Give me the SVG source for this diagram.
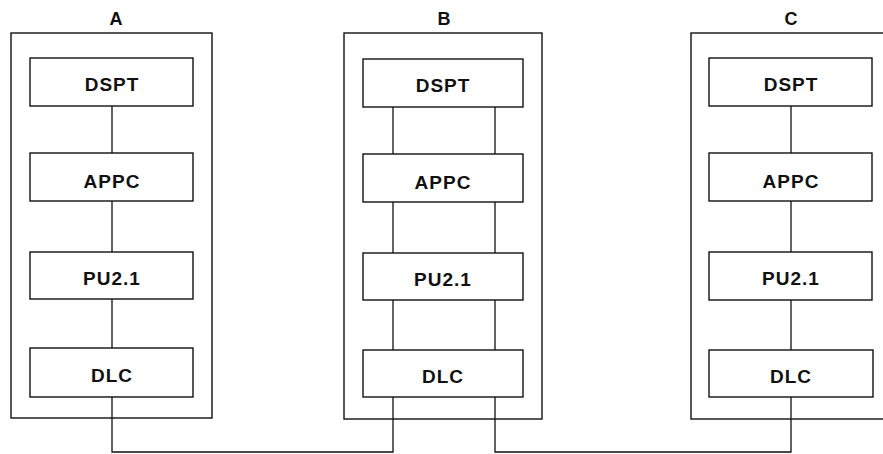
<svg xmlns="http://www.w3.org/2000/svg" width="883" height="454" viewBox="0 0 883 454">
<style>
.frame{fill:none;stroke:#111;stroke-width:1.4}
.box{fill:#fff;stroke:#111;stroke-width:1.4}
.ln{fill:none;stroke:#111;stroke-width:1.3}
.lbl{font-family:"Liberation Sans",Arial,sans-serif;font-weight:bold;font-size:19px;letter-spacing:1px;fill:#111;text-anchor:middle}
.ttl{font-family:"Liberation Sans",Arial,sans-serif;font-weight:bold;font-size:18px;fill:#111;text-anchor:middle}
</style>
<rect width="883" height="454" fill="#fff"/>
<g id="connectors">
<line class="ln" x1="112" y1="106" x2="112" y2="153"/>
<line class="ln" x1="112" y1="201" x2="112" y2="252"/>
<line class="ln" x1="112" y1="299" x2="112" y2="348"/>
<line class="ln" x1="393" y1="107" x2="393" y2="154"/>
<line class="ln" x1="495" y1="107" x2="495" y2="154"/>
<line class="ln" x1="393" y1="202" x2="393" y2="253"/>
<line class="ln" x1="495" y1="202" x2="495" y2="253"/>
<line class="ln" x1="393" y1="300" x2="393" y2="350"/>
<line class="ln" x1="495" y1="300" x2="495" y2="350"/>
<line class="ln" x1="791" y1="106" x2="791" y2="153"/>
<line class="ln" x1="791" y1="201" x2="791" y2="252"/>
<line class="ln" x1="791" y1="300" x2="791" y2="350"/>
<polyline class="ln" points="112,397 112,452 393,452 393,397"/>
<polyline class="ln" points="495,397 495,452 791,452 791,397"/>
</g>
<g id="nodeA">
<text class="ttl" x="116" y="25">A</text>
<rect class="frame" x="11" y="33" width="201" height="385"/>
</g>
<g id="A-DSPT"><rect class="box" x="30" y="58" width="163" height="48"/><text class="lbl" x="112" y="91">DSPT</text></g>
<g id="A-APPC"><rect class="box" x="30" y="153" width="163" height="48"/><text class="lbl" x="112" y="188">APPC</text></g>
<g id="A-PU21"><rect class="box" x="30" y="252" width="163" height="47"/><text class="lbl" x="112" y="285">PU2.1</text></g>
<g id="A-DLC"><rect class="box" x="30" y="348" width="163" height="49"/><text class="lbl" x="112" y="382">DLC</text></g>
<g id="nodeB">
<text class="ttl" x="444" y="25">B</text>
<rect class="frame" x="344" y="33" width="198" height="386"/>
</g>
<g id="B-DSPT"><rect class="box" x="363" y="59" width="160" height="48"/><text class="lbl" x="443" y="92">DSPT</text></g>
<g id="B-APPC"><rect class="box" x="363" y="154" width="160" height="48"/><text class="lbl" x="443" y="189">APPC</text></g>
<g id="B-PU21"><rect class="box" x="363" y="253" width="160" height="47"/><text class="lbl" x="443" y="286">PU2.1</text></g>
<g id="B-DLC"><rect class="box" x="363" y="350" width="160" height="47"/><text class="lbl" x="443" y="383">DLC</text></g>
<g id="nodeC">
<text class="ttl" x="791" y="25">C</text>
<rect class="frame" x="691" y="33" width="200" height="386"/>
</g>
<g id="C-DSPT"><rect class="box" x="709" y="58" width="163" height="48"/><text class="lbl" x="791" y="91">DSPT</text></g>
<g id="C-APPC"><rect class="box" x="709" y="153" width="163" height="48"/><text class="lbl" x="791" y="188">APPC</text></g>
<g id="C-PU21"><rect class="box" x="709" y="252" width="163" height="48"/><text class="lbl" x="791" y="285">PU2.1</text></g>
<g id="C-DLC"><rect class="box" x="709" y="350" width="164" height="47"/><text class="lbl" x="791" y="383">DLC</text></g>
</svg>
